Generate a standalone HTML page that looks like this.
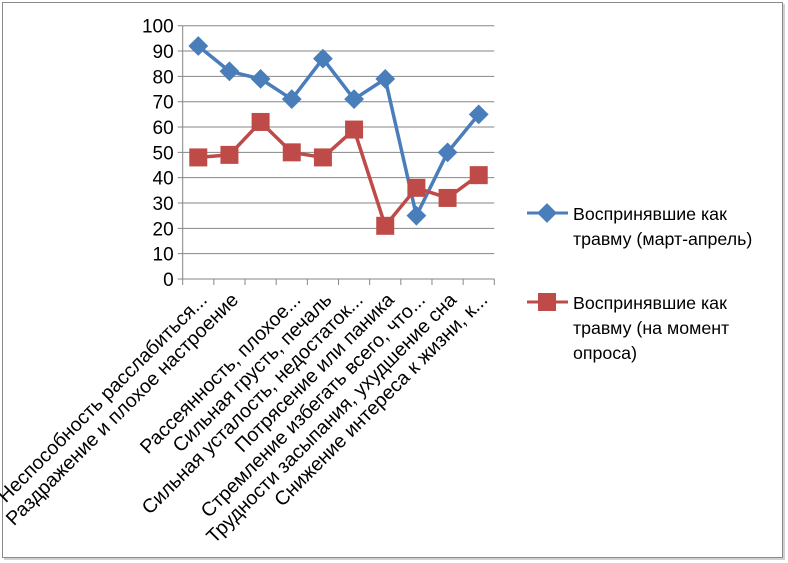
<!DOCTYPE html>
<html><head><meta charset="utf-8"><style>
body{margin:0;background:#fff}
svg{display:block;font-family:"Liberation Sans","DejaVu Sans",sans-serif}
</style></head><body>
<svg id="chart" width="788" height="563">
<rect x="4" y="4" width="781" height="556" fill="#d0d0d0"/>
<rect x="2.5" y="2.5" width="780" height="555" fill="#fff" stroke="#8a8a8a"/>
<g id="grid"></g><g id="axes"></g><g id="series"></g><g id="labels"></g>
<g>
 <g>
  <line x1="527" y1="213" x2="568" y2="213" stroke="#4a7ebb" stroke-width="3"/>
  <rect x="540" y="206" width="14" height="14" fill="#4a7ebb" transform="rotate(45 547 213)"/>
  <text x="573" y="220" font-size="17.8" fill="#000">Воспринявшие как</text>
  <text x="573" y="245" font-size="17.8" fill="#000">травму (март-апрель)</text>
 </g>
 <g>
  <line x1="527" y1="302" x2="568" y2="302" stroke="#be4b48" stroke-width="3"/>
  <rect x="538" y="293" width="18" height="18" fill="#be4b48"/>
  <text x="573" y="309" font-size="17.8" fill="#000">Воспринявшие как</text>
  <text x="573" y="334" font-size="17.8" fill="#000">травму (на момент</text>
  <text x="573" y="359" font-size="17.8" fill="#000">опроса)</text>
 </g>
</g>
</svg>
<script>
const categories=["Неспособность расслабиться...","Раздражение и плохое настроение","","Рассеянность, плохое...","Сильная грусть, печаль","Сильная усталость, недостаток...","Потрясение или паника","Стремление избегать всего, что...","Трудности засыпания, ухудшение сна","Снижение интереса к жизни, к..."];
const seriesMarchApril=[92,82,79,71,87,71,79,25,50,65];
const seriesSurvey=[48,49,62,50,48,59,21,36,32,41];
const yTicks=[0,10,20,30,40,50,60,70,80,90,100];
const NS="http://www.w3.org/2000/svg";
const X0=182.7,X1=494.3,Y0=279,Y1=25.7;
const n=categories.length,step=(X1-X0)/n;
function xs(i){return X0+step*(i+0.5);}
function ys(v){return Y0-(v/100)*(Y0-Y1);}
function mk(t,a,p){const e=document.createElementNS(NS,t);for(const k in a)e.setAttribute(k,a[k]);p.appendChild(e);return e;}
const grid=document.getElementById('grid'),axes=document.getElementById('axes'),ser=document.getElementById('series'),lab=document.getElementById('labels');
yTicks.forEach(v=>{
 const l=mk('line',{x1:X0-5,x2:X1,y1:ys(v),y2:ys(v),stroke:'#868686','stroke-width':1},grid);
 
 
 const t=mk('text',{x:X0-9,y:ys(v)+7,'text-anchor':'end','font-size':19,fill:'#000'},axes);
 t.textContent=v;
 
 
});
const ya=mk('line',{x1:X0,x2:X0,y1:Y1,y2:Y0,stroke:'#868686'},axes);


for(let i=0;i<=n;i++){const x=X0+step*i;const tk=mk('line',{x1:x,x2:x,y1:Y0,y2:Y0+6,stroke:'#868686'},axes);
 
 }
categories.forEach((c,i)=>{
 const x=xs(i)+10,y=Y0+22;
 const t=mk('text',{x:x,y:y,'text-anchor':'end','font-size':19.6,fill:'#000',transform:`rotate(-45 ${x} ${y})`},lab);
 t.textContent=c;
 
 
});
function draw(vals,color,shape,name){
 const pts=vals.map((v,i)=>xs(i)+','+ys(v)).join(' ');
 const pl=mk('polyline',{points:pts,fill:'none',stroke:color,'stroke-width':3.5,'stroke-linejoin':'round'},ser);
 
 
 vals.forEach((v,i)=>{
  const x=xs(i),y=ys(v);let m;
  if(shape==='d')m=mk('rect',{x:x-7,y:y-7,width:14,height:14,fill:color,transform:`rotate(45 ${x} ${y})`},ser);
  else m=mk('rect',{x:x-9,y:y-9,width:18,height:18,fill:color},ser);
  
  
 });
}
draw(seriesMarchApril,'#4a7ebb','d','march-april');
draw(seriesSurvey,'#be4b48','s','survey-moment');
</script>
</body></html>
